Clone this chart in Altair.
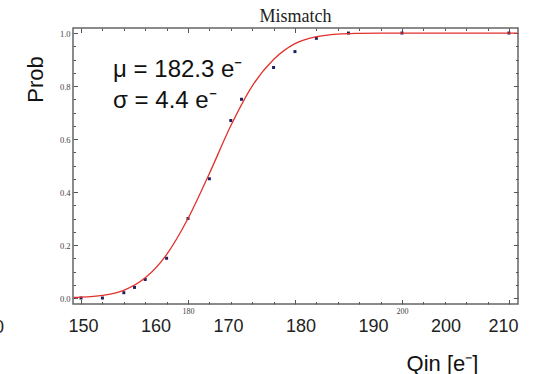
import altair as alt
import pandas as pd

# measured points (inner Qin scale)
qin_pts = [170, 172, 174, 175, 176, 178, 180, 182, 184, 185, 188, 190, 192, 195, 200, 210]
prob_pts = [0.0, 0.0, 0.02, 0.04, 0.07, 0.15, 0.30, 0.45, 0.67, 0.75, 0.87, 0.93, 0.98, 1.0, 1.0, 1.0]

# fitted curve
fit_x = [169.3, 170, 172, 174, 176, 178, 180, 182, 184, 186, 188, 190, 192, 194, 196, 198, 200, 205, 210.8]
fit_y = [0.002, 0.003, 0.010, 0.029, 0.076, 0.164, 0.30, 0.47, 0.65, 0.80, 0.90, 0.96, 0.986, 0.996, 0.999, 1.0, 1.0, 1.0, 1.0]

# annotation
ann_text = ["μ = 182.3 e⁻", "σ = 4.4 e⁻"]
ann_x = [173.0, 173.0]
ann_y = [0.834, 0.717]

# tick values
inner_x_ticks = [170, 172, 174, 176, 178, 180, 182, 184, 186, 188, 190, 192, 194, 196, 198, 200, 202, 204, 206, 208, 210]
inner_x_labels = [180, 200]
y_ticks = [0.0, 0.05, 0.1, 0.15, 0.2, 0.25, 0.3, 0.35, 0.4, 0.45, 0.5, 0.55, 0.6, 0.65, 0.7, 0.75, 0.8, 0.85, 0.9, 0.95, 1.0]
y_labels = [0.0, 0.2, 0.4, 0.6, 0.8, 1.0]
big_x_labels = [150, 160, 170, 180, 190, 200, 210]

W, H = 445, 276
XDOM = [169.25, 210.85]
YDOM = [-0.0226, 1.019]
BIGDOM = [148.62, 210.0]

pts = pd.DataFrame({"qin": qin_pts, "prob": prob_pts})
fit = pd.DataFrame({"qin": fit_x, "prob": fit_y})
ann = pd.DataFrame({"t": ann_text, "qin": ann_x, "prob": ann_y})
big = pd.DataFrame({"v": big_x_labels})

xs = alt.Scale(domain=XDOM, nice=False, zero=False)
ys = alt.Scale(domain=YDOM, nice=False, zero=False)

x_major = {"condition": {"test": "datum.value % 10 === 0", "value": 4.5}, "value": 2.5}
y_major = {"condition": {"test": "abs(datum.value * 5 - round(datum.value * 5)) < 0.000001", "value": 4.5}, "value": 2.5}

tick_common = dict(labels=False, domain=False, grid=False, ticks=True, tickColor="#555", tickWidth=1)

# Layer 1: points, with labelled axes
points = alt.Chart(pts).mark_square(size=9, color="#1c2260", opacity=1).encode(
    x=alt.X("qin:Q", scale=xs, axis=alt.Axis(
        orient="bottom", values=inner_x_labels, format="d", ticks=False, domain=False, grid=False,
        labelFont="Liberation Serif", labelFontSize=8, labelColor="#444", labelPadding=3, title=None)),
    y=alt.Y("prob:Q", scale=ys, axis=alt.Axis(
        orient="left", values=y_labels, format=".1f", ticks=False, domain=False, grid=False,
        labelFont="Liberation Serif", labelFontSize=8.5, labelColor="#444", labelPadding=3,
        title="Prob", titleFont="Liberation Sans", titleFontSize=22, titleFontWeight="normal",
        titleColor="#111", titleAngle=270, titleX=-38, titleY=51, titleAlign="center",
        titleBaseline="middle")),
)

# Layer 2: fitted curve, inward ticks at bottom and left
curve = alt.Chart(fit).mark_line(color="#e2312c", strokeWidth=1.3, interpolate="monotone").encode(
    x=alt.X("qin:Q", scale=xs, axis=alt.Axis(orient="top", offset=-H, values=inner_x_ticks,
                                             tickSize=x_major, title=None, **tick_common)),
    y=alt.Y("prob:Q", scale=ys, axis=alt.Axis(orient="right", offset=-W, values=y_ticks,
                                              tickSize=y_major, title=None, **tick_common)),
)

# Layer 3: annotation, inward ticks at top and right
annot = alt.Chart(ann).mark_text(align="left", baseline="alphabetic", font="Liberation Sans",
                                 fontSize=24, color="#111").encode(
    x=alt.X("qin:Q", scale=xs, axis=alt.Axis(orient="bottom", offset=-H, values=inner_x_ticks,
                                             tickSize=x_major, title=None, **tick_common)),
    y=alt.Y("prob:Q", scale=ys, axis=alt.Axis(orient="left", offset=-W, values=y_ticks,
                                              tickSize=y_major, title=None, **tick_common)),
    text="t:N",
)

# Layer 4: big overlaid Qin axis
bigaxis = alt.Chart(big).mark_point(opacity=0).encode(
    x=alt.X("v:Q", scale=alt.Scale(domain=BIGDOM, nice=False, zero=False), axis=alt.Axis(
        orient="bottom", values=big_x_labels, format="d", ticks=False, domain=False, grid=False,
        labelFont="Liberation Sans", labelFontSize=18, labelColor="#222", labelPadding=13,
        title="Qin [e⁻]", titleFont="Liberation Sans", titleFontSize=22, titleFontWeight="normal",
        titleColor="#111", titleX=369, titleY=66, titleAlign="center", titleBaseline="alphabetic")),
)

# clipped remnant at the left edge
zero = alt.Chart(pd.DataFrame({"t": ["0"]})).mark_text(
    align="right", baseline="middle", font="Liberation Sans", fontSize=18, color="#222"
).encode(x=alt.value(-69), y=alt.value(300), text="t:N")

chart = alt.layer(points, curve, annot, bigaxis, zero).resolve_scale(
    x="independent", y="independent"
).properties(
    width=W, height=H,
    padding={"left": 73, "top": 28, "right": 33, "bottom": 70},
    autosize=alt.AutoSizeParams(type="none"),
    title=alt.TitleParams(text="Mismatch", font="Liberation Serif", fontSize=18, fontWeight="normal",
                          color="#222", anchor="middle", offset=5, baseline="alphabetic", dy=17),
).configure_view(stroke="#666", strokeWidth=1.5)

chart.save("out.html", embed_options={"renderer": "svg", "actions": False})
